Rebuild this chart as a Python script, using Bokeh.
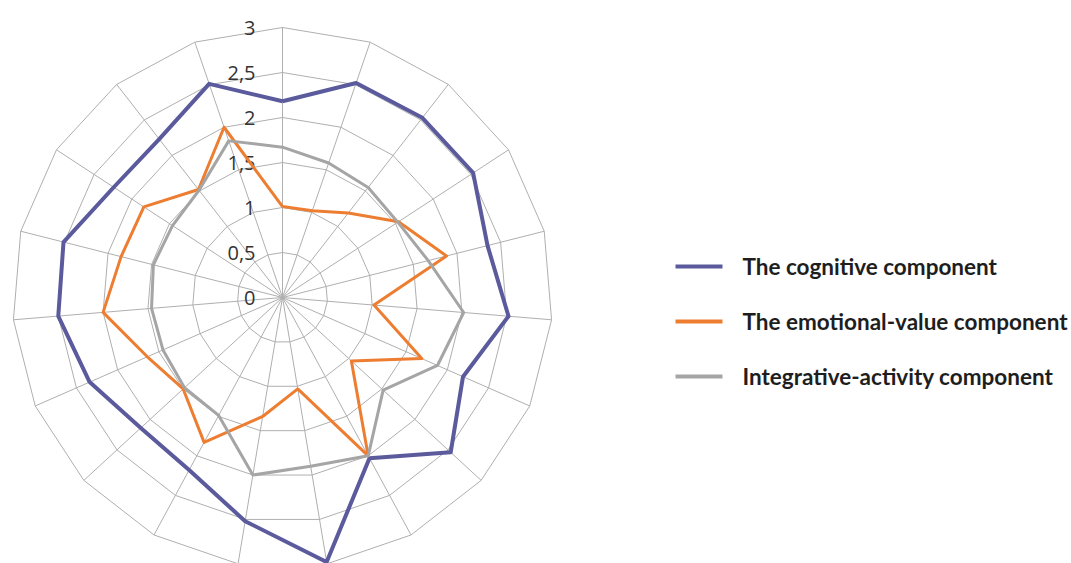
import numpy as np
from bokeh.plotting import figure
from bokeh.models import Range1d
from bokeh.core.properties import value
from bokeh.embed import file_html
from bokeh.resources import INLINE

# Scores on the 19 radar axes (clockwise from the top)
cognitive = [2.18, 2.52, 2.53, 2.53, 2.35, 2.52, 2.19, 2.54, 2.03, 2.98,
             2.52, 2.18, 2.14, 2.34, 2.50, 2.51, 2.24, 2.23, 2.51]
emotional = [1.01, 1.02, 1.19, 1.54, 1.88, 1.02, 1.69, 1.04, 2.00, 1.03,
             1.34, 1.83, 1.50, 1.64, 2.00, 1.85, 1.84, 1.52, 2.00]
integrative = [1.67, 1.58, 1.55, 1.53, 1.67, 2.02, 1.88, 1.52, 2.00, 1.90,
               2.00, 1.49, 1.48, 1.45, 1.46, 1.48, 1.46, 1.51, 1.84]

series_names = ["The cognitive component",
                "The emotional-value component",
                "Integrative-activity component"]
series_colors = ["#5A5A9C", "#ED7D31", "#A5A5A5"]
series_widths = [4, 3, 3]

ring_values = [0.5, 1.0, 1.5, 2.0, 2.5, 3.0]
tick_values = [0, 0.5, 1, 1.5, 2, 2.5, 3]
tick_labels = ["0", "0,5", "1", "1,5", "2", "2,5", "3"]

n = len(cognitive)
theta = np.pi / 2 - np.arange(n) * 2 * np.pi / n
r_max = 3.0

W, H = 1071, 563
PX = 90.0           # pixels per score unit
CX, CY = 282, 297   # centre of the radar in pixels from top-left

p = figure(width=W, height=H, output_backend="svg", toolbar_location=None,
           x_range=Range1d(-CX / PX, (W - CX) / PX),
           y_range=Range1d(-(H - CY) / PX, CY / PX),
           min_border=0)
p.axis.visible = False
p.grid.visible = False
p.outline_line_color = None
p.background_fill_color = "white"
p.border_fill_color = "white"

grid_color = "#AFAFAF"

# spokes
p.segment(x0=np.zeros(n), y0=np.zeros(n),
          x1=r_max * np.cos(theta), y1=r_max * np.sin(theta),
          line_color=grid_color, line_width=1)

# concentric polygon rings
ring_xs = [list(rv * np.cos(np.append(theta, theta[0]))) for rv in ring_values]
ring_ys = [list(rv * np.sin(np.append(theta, theta[0]))) for rv in ring_values]
p.multi_line(xs=ring_xs, ys=ring_ys, line_color=grid_color, line_width=1)

# radial scale labels
p.text(x=[0] * len(tick_values), y=tick_values, text=tick_labels,
       x_offset=-27, text_align="right", text_baseline="middle",
       text_font=value("Open Sans"), text_font_size="20px",
       text_color="#333333")

# data polygons
for vals, col, lw in zip([cognitive, emotional, integrative],
                         series_colors, series_widths):
    v = np.append(vals, vals[0])
    t = np.append(theta, theta[0])
    p.line(x=v * np.cos(t), y=v * np.sin(t), line_color=col,
           line_width=lw, line_join="round")

# legend drawn to the right of the radar
leg_x0 = (675 - CX) / PX
leg_x1 = (722 - CX) / PX
leg_tx = (742 - CX) / PX
leg_rows = [(CY - 266) / PX, (CY - 321) / PX, (CY - 376) / PX]
for name, col, row in zip(series_names, series_colors, leg_rows):
    p.segment(x0=[leg_x0], y0=[row], x1=[leg_x1], y1=[row],
              line_color=col, line_width=4)
    p.text(x=[leg_tx], y=[row], text=[name], text_align="left",
           text_baseline="middle", text_font=value("Lato"),
           text_font_style="bold", text_font_size="22.5px",
           text_color="#1E1E1E")

open("out.html", "w").write(file_html(p, INLINE))
